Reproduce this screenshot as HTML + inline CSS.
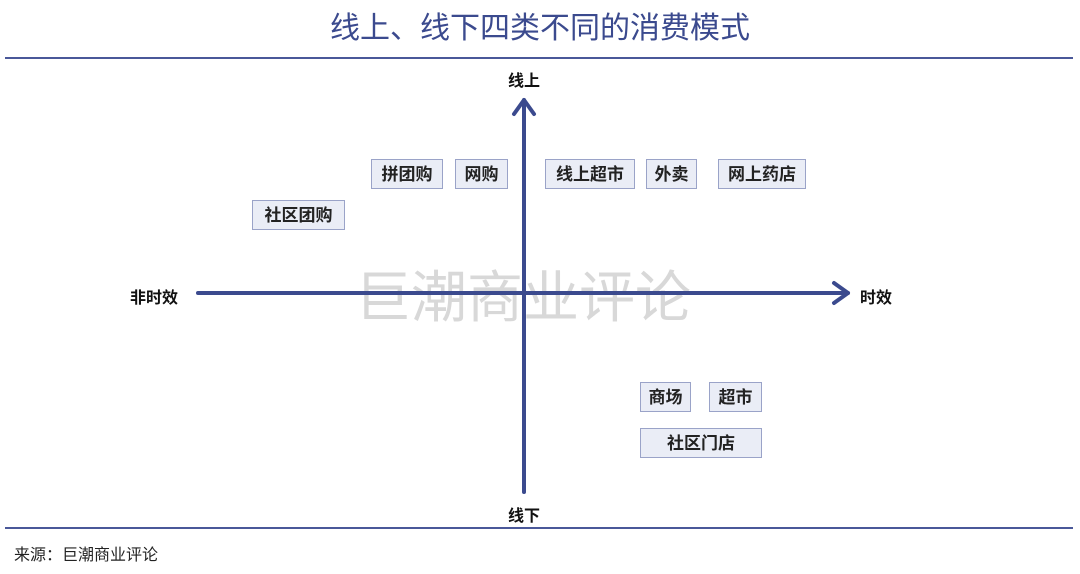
<!DOCTYPE html>
<html><head><meta charset="utf-8"><style>
body{margin:0;width:1080px;height:574px;background:#fff;position:relative;overflow:hidden;font-family:"Liberation Sans","Noto Sans CJK SC",sans-serif}
.a{position:absolute}
.b{position:absolute;background:#eaedf6;border:1.5px solid #9aa3c8;box-sizing:border-box;font-size:17px;font-weight:bold;color:#222;text-align:center;line-height:29px;height:30px}
.l{position:absolute;font-size:16px;font-weight:bold;color:#111}
</style></head><body>
<div class="a" style="left:0;width:1080px;top:9px;text-align:center;font-size:30px;color:#3b4a8e;line-height:40px">线上、线下四类不同的消费模式</div>
<div class="a" style="left:5px;width:1068px;top:57px;height:2px;background:#4a5899"></div>
<div class="a" style="left:5px;width:1068px;top:527px;height:2px;background:#4a5899"></div>
<div class="a" style="left:355px;top:263px;font-size:56px;color:#d8d8d8;line-height:70px">巨潮商业评论</div>
<svg class="a" style="left:0;top:0" width="1080" height="574">
<g stroke="#3b4a8e" stroke-width="4" fill="none" stroke-linecap="round" stroke-linejoin="round">
<line x1="198" y1="293" x2="848" y2="293"/><polyline points="834,283 848,293 834,303"/>
<line x1="524" y1="492" x2="524" y2="100"/><polyline points="514,114 524,100 534,114"/>
</g></svg>
<div class="l" style="left:508px;top:67px">线上</div>
<div class="l" style="left:508px;top:502px">线下</div>
<div class="l" style="left:130px;top:284px">非时效</div>
<div class="l" style="left:860px;top:284px">时效</div>
<div class="b" style="left:371px;top:159px;width:72px">拼团购</div>
<div class="b" style="left:455px;top:159px;width:53px">网购</div>
<div class="b" style="left:545px;top:159px;width:90px">线上超市</div>
<div class="b" style="left:646px;top:159px;width:51px">外卖</div>
<div class="b" style="left:718px;top:159px;width:88px">网上药店</div>
<div class="b" style="left:252px;top:200px;width:93px">社区团购</div>
<div class="b" style="left:640px;top:382px;width:51px">商场</div>
<div class="b" style="left:709px;top:382px;width:53px">超市</div>
<div class="b" style="left:640px;top:428px;width:122px">社区门店</div>
<div class="a" style="left:14px;top:541px;font-size:16px;color:#222">来源：巨潮商业评论</div>
</body></html>
